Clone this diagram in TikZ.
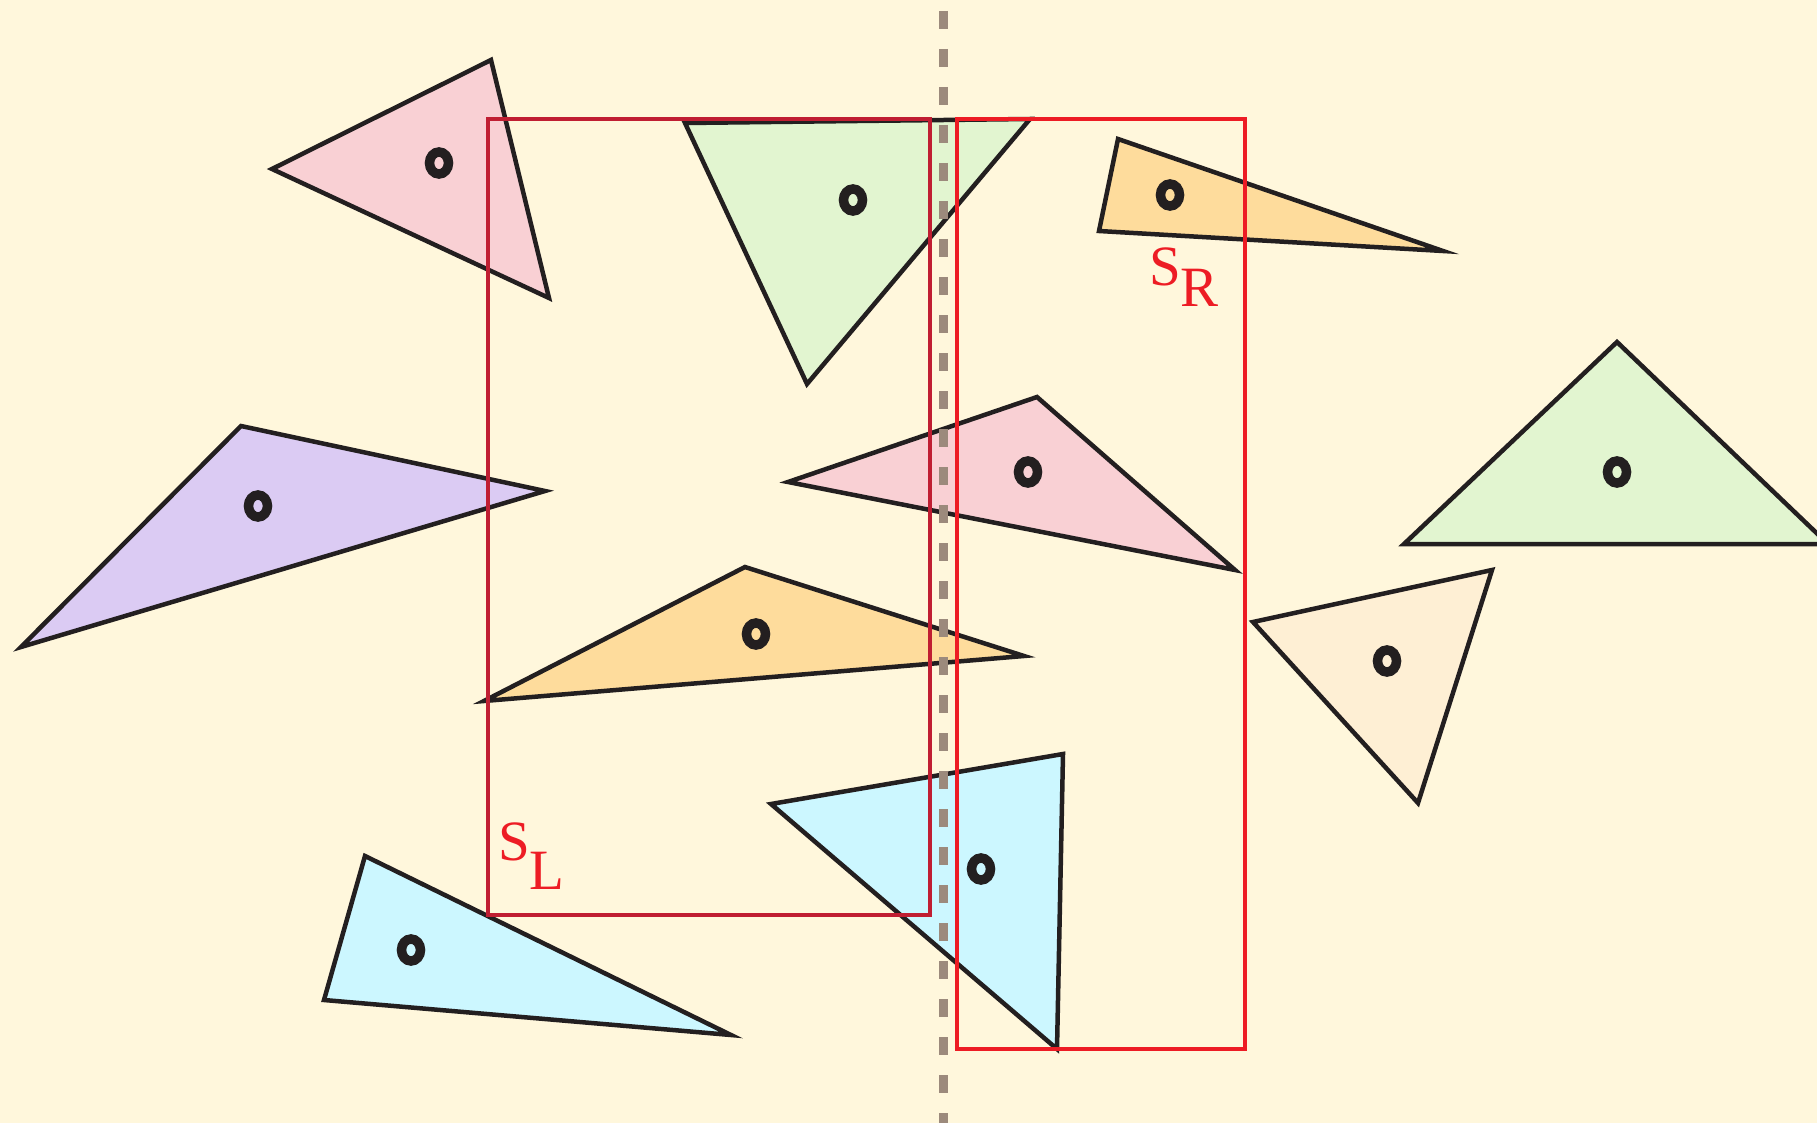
\documentclass[tikz,border=0pt]{standalone}
\usepackage{fontspec}
\setmainfont{Liberation Serif}
\begin{document}
\begin{tikzpicture}[x=1pt,y=-1pt]
\definecolor{bg}{HTML}{FFF7DC}
\definecolor{ink}{HTML}{231F20}
\definecolor{pinkf}{HTML}{F9D0D4}
\definecolor{greenf}{HTML}{E2F5D0}
\definecolor{orangef}{HTML}{FEDC9C}
\definecolor{purplef}{HTML}{DBCBF3}
\definecolor{paleorf}{HTML}{FEEFD4}
\definecolor{bluef}{HTML}{CCF7FF}
\definecolor{slred}{HTML}{C01E32}
\definecolor{srred}{HTML}{ED1C24}
\definecolor{dashc}{HTML}{9C8A7C}
\tikzset{
  tri/.style={draw=ink, line width=4.5pt, line join=miter},
  ring/.style={draw=ink, line width=9.5pt},
  boxl/.style={draw=slred, line width=4.5pt},
  boxr/.style={draw=srred, line width=4.5pt},
  lab/.style={text=srred, font=\fontsize{57}{60}\selectfont, inner sep=0pt},
}
\useasboundingbox (0,0) rectangle (1817,1123);
\fill[bg] (0,0) rectangle (1817,1123);
\clip (0,0) rectangle (1817,1123);
% triangles
\filldraw[tri, fill=pinkf] (272,169) -- (491,60) -- (549,298) -- cycle;
\draw[ring] (439,163) ellipse [x radius=9.5, y radius=11];
\filldraw[tri, fill=greenf] (685,123) -- (1030,119) -- (807,384) -- cycle;
\draw[ring] (853,200) ellipse [x radius=9.5, y radius=11];
\filldraw[tri, fill=orangef] (1118,139) -- (1443,251) -- (1099,231) -- cycle;
\draw[ring] (1170,195) ellipse [x radius=9.5, y radius=11];
\filldraw[tri, fill=purplef] (241,426) -- (545,491) -- (21,647) -- cycle;
\draw[ring] (258,506) ellipse [x radius=9.5, y radius=11];
\filldraw[tri, fill=pinkf] (788,482) -- (1037,397) -- (1235,570) -- cycle;
\draw[ring] (1028,472) ellipse [x radius=9.5, y radius=11];
\filldraw[tri, fill=greenf] (1617,342) -- (1828,544) -- (1404,544) -- cycle;
\draw[ring] (1617,472) ellipse [x radius=9.5, y radius=11];
\filldraw[tri, fill=orangef] (745,567) -- (1024,656) -- (484,701) -- cycle;
\draw[ring] (756,634) ellipse [x radius=9.5, y radius=11];
\filldraw[tri, fill=paleorf] (1253,622) -- (1492,570) -- (1418,803) -- cycle;
\draw[ring] (1387,661) ellipse [x radius=9.5, y radius=11];
\filldraw[tri, fill=bluef] (771,804) -- (1063,754) -- (1057,1049) -- cycle;
\draw[ring] (981,869) ellipse [x radius=9.5, y radius=11];
\filldraw[tri, fill=bluef] (365,856) -- (731,1035) -- (324,1000) -- cycle;
\draw[ring] (411,950) ellipse [x radius=9.5, y radius=11];
% boxes
\draw[boxl] (488,119) rectangle (930,915);
\draw[boxr] (957,119) rectangle (1245,1049);
% dividing line
\draw[dashc, line width=9pt, dash pattern=on 18pt off 20pt] (943,11) -- (943,1130);
% labels
\node[lab, anchor=base west] (sl) at (498,860) {S\raisebox{-29pt}{L}};
\node[lab, anchor=base west] (sr) at (1149,285) {S\raisebox{-21pt}{R}};
\end{tikzpicture}
\end{document}
